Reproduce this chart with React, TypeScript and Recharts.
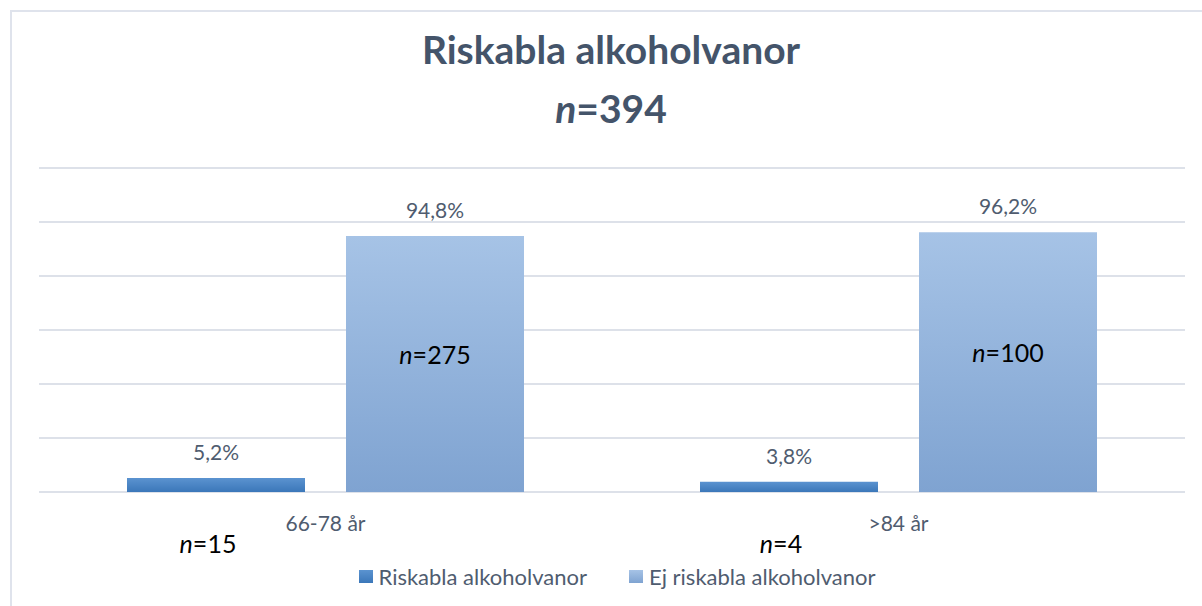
import { BarChart, Bar, XAxis, YAxis, CartesianGrid, LabelList } from "recharts";

const categories = ["66-78 år", ">84 år"];
const risky = [5.2, 3.8];
const notRisky = [94.8, 96.2];
const riskyN = [15, 4];
const notRiskyN = [275, 100];
const yTicks = [0, 20, 40, 60, 80, 100, 120];

const SERIES = ["Riskabla alkoholvanor", "Ej riskabla alkoholvanor"];
const FONT = "Lato, 'Open Sans', sans-serif";
const SLATE = "#44546a";
const LABEL = "#4f5c6f";
const SWATCH = ["linear-gradient(#5b93d0,#3b77b9)", "linear-gradient(#a6c3e6,#7fa3d1)"];

const data = categories.map((c, i) => ({
  category: c,
  risky: risky[i],
  notRisky: notRisky[i],
  riskyN: riskyN[i],
  notRiskyN: notRiskyN[i],
}));

const pct = (v: number) => v.toFixed(1).replace(".", ",") + "%";

function NText({ x, y, value }: { x: number; y: number; value: number }) {
  return (
    <text x={x} y={y} textAnchor="middle" fontSize={25} fill="#000" fontFamily={FONT}>
      <tspan fontStyle="italic">n</tspan>
      <tspan>={value}</tspan>
    </text>
  );
}

export default function App() {
  return (
    <div style={{ position: "absolute", left: 0, top: 0, width: 1202, height: 606, background: "#fff", overflow: "hidden" }}>
      <div
        style={{
          position: "absolute",
          left: 10,
          top: 10,
          width: 1220,
          height: 640,
          borderLeft: "2px solid #dfe3ec",
          borderTop: "2px solid #dfe3ec",
        }}
      />
      <svg width={1202} height={140} style={{ position: "absolute", left: 0, top: 0 }}>
        <text x={611} y={64} textAnchor="middle" fontFamily={FONT} fontWeight={700} fontSize={39} fill={SLATE}>
          Riskabla alkoholvanor
        </text>
        <text x={611} y={123} textAnchor="middle" fontFamily={FONT} fontWeight={700} fontSize={39} fill={SLATE}>
          <tspan fontStyle="italic">n</tspan>
          <tspan>=394</tspan>
        </text>
      </svg>
      <div style={{ position: "absolute", left: 0, top: 0 }}>
        <BarChart
          width={1202}
          height={606}
          data={data}
          margin={{ top: 168, right: 17, left: 39, bottom: 84 }}
          barCategoryGap={88}
          barGap={41}
        >
          <defs>
            <linearGradient id="gRisky" x1="0" y1="0" x2="0" y2="1">
              <stop offset="0%" stopColor="#5b93d0" />
              <stop offset="100%" stopColor="#3b77b9" />
            </linearGradient>
            <linearGradient id="gNot" x1="0" y1="0" x2="0" y2="1">
              <stop offset="0%" stopColor="#a6c3e6" />
              <stop offset="100%" stopColor="#7fa3d1" />
            </linearGradient>
          </defs>
          <CartesianGrid vertical={false} stroke="#dde1e9" strokeWidth={2} />
          <YAxis hide domain={[0, 120]} ticks={yTicks} />
          <XAxis
            dataKey="category"
            height={30}
            axisLine={false}
            tickLine={false}
            tickMargin={18}
            tick={{ fill: LABEL, fontSize: 21, fontFamily: FONT }}
          />
          <Bar dataKey="risky" name={SERIES[0]} fill="url(#gRisky)" isAnimationActive={false}>
            <LabelList
              dataKey="risky"
              position="top"
              offset={18}
              formatter={(v: any) => pct(Number(v))}
              fill={LABEL}
              fontSize={21}
              fontFamily={FONT}
            />
            <LabelList
              dataKey="riskyN"
              content={(p: any) => (
                <NText x={p.x + p.width / 2 - 8} y={p.y + p.height + 61} value={p.value} />
              )}
            />
          </Bar>
          <Bar dataKey="notRisky" name={SERIES[1]} fill="url(#gNot)" isAnimationActive={false}>
            <LabelList
              dataKey="notRisky"
              position="top"
              offset={18}
              formatter={(v: any) => pct(Number(v))}
              fill={LABEL}
              fontSize={21}
              fontFamily={FONT}
            />
            <LabelList
              dataKey="notRiskyN"
              content={(p: any) => (
                <NText x={p.x + p.width / 2} y={p.y + p.height / 2} value={p.value} />
              )}
            />
          </Bar>
        </BarChart>
      </div>
      <div
        style={{
          position: "absolute",
          left: 0,
          top: 563,
          width: 1234,
          display: "flex",
          justifyContent: "center",
          gap: 42,
          fontFamily: FONT,
          fontSize: 22,
          color: LABEL,
        }}
      >
        {SERIES.map((s, i) => (
          <div key={s} style={{ display: "flex", alignItems: "center", gap: 6 }}>
            <span style={{ width: 14, height: 13, display: "inline-block", background: SWATCH[i] }} />
            <span>{s}</span>
          </div>
        ))}
      </div>
    </div>
  );
}
